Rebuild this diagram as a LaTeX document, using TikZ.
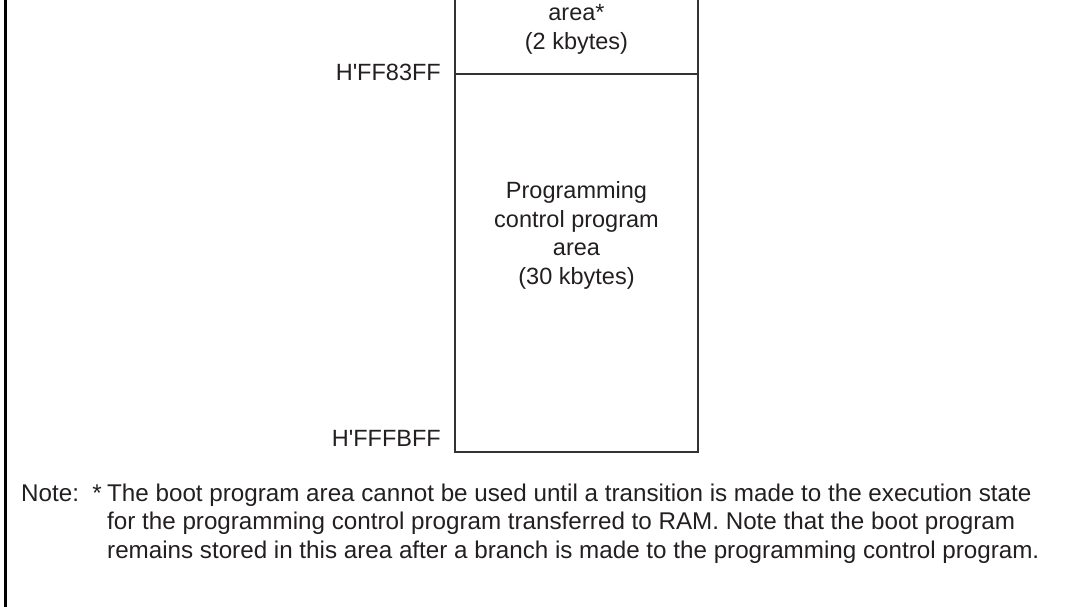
\documentclass[tikz,border=0pt]{standalone}
\usepackage{fontspec}
\setmainfont{Liberation Sans}
\definecolor{ink}{HTML}{231F20}
\definecolor{rule}{HTML}{333333}
\begin{document}
\begin{tikzpicture}[x=1pt,y=-1pt,
  txt/.style={inner sep=0pt, text=ink, font=\fontsize{23.5}{28.5}\selectfont},
  notetxt/.style={inner sep=0pt, text=ink, font=\fontsize{24.2}{28.2}\selectfont},
  ctr/.style={txt, align=center},
  addr/.style={txt, anchor=east},
  boxline/.style={draw=rule, line width=1.4pt},
  divline/.style={draw=rule, line width=2pt}]
\useasboundingbox (0,0) rectangle (1066,606);
\clip (0,0) rectangle (1066,606);
% left frame line
\draw[line width=2.5pt, black] (5.5,-5) -- (5.5,611);
% memory box
\coordinate (tl) at (455,-10);
\coordinate (tr) at (698,-10);
\coordinate (ml) at (455,74);
\coordinate (mr) at (698,74);
\coordinate (bl) at (455,452);
\coordinate (br) at (698,452);
\draw[boxline] (tl) -- (bl) -- (br) -- (tr);
\draw[divline] (ml) -- (mr);
% box texts
\node[ctr] (boot) at (576.5,29.5) {area*\\(2 kbytes)};
\node[ctr] (prog) at (576.5,235.5) {Programming\\control program\\area\\(30 kbytes)};
% addresses
\node[addr] (a1) at (441,72) {H\textquotesingle FF83FF};
\node[addr] (a2) at (441,438) {H\textquotesingle FFFBFF};
% note
\node[notetxt, anchor=base west] (note) at (21,501) {Note:\ \ *};
\node[notetxt, anchor=north west, align=left] (notetext) at (107,484)
  {The boot program area cannot be used until a transition is made to the execution state\\
   for the programming control program transferred to RAM. Note that the boot program\\
   remains stored in this area after a branch is made to the programming control program.};
\end{tikzpicture}
\end{document}
